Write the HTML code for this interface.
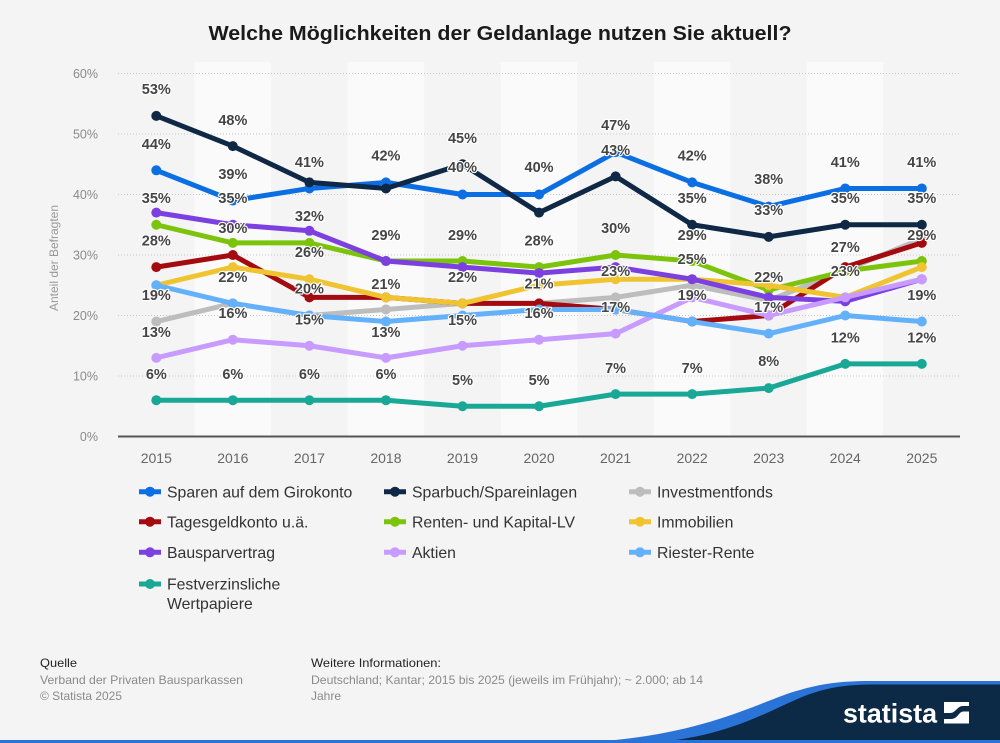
<!DOCTYPE html>
<html><head><meta charset="utf-8">
<style>
html,body{margin:0;padding:0;background:#f4f4f4;}
svg{display:block;font-family:"Liberation Sans",Arial,sans-serif;}
.lbl{font-size:14.5px;font-weight:bold;fill:#454545;stroke:#ffffff;stroke-width:2.2px;stroke-linejoin:round;paint-order:stroke;text-anchor:middle;}
.yt{font-size:12.5px;fill:#8a8a8a;text-anchor:end;}
.xt{font-size:14px;fill:#666;text-anchor:middle;}
.lg{font-size:15.8px;fill:#333;}
.s{fill:none;stroke-width:5;stroke-linejoin:round;stroke-linecap:round;}
</style></head>
<body>
<svg width="1000" height="743" viewBox="0 0 1000 743" xmlns="http://www.w3.org/2000/svg">
<defs>
<marker id="m0" markerUnits="userSpaceOnUse" markerWidth="12" markerHeight="12" refX="6" refY="6"><circle cx="6" cy="6" r="5" fill="#0b6fe3"/></marker>
<marker id="m1" markerUnits="userSpaceOnUse" markerWidth="12" markerHeight="12" refX="6" refY="6"><circle cx="6" cy="6" r="5" fill="#0e2845"/></marker>
<marker id="m2" markerUnits="userSpaceOnUse" markerWidth="12" markerHeight="12" refX="6" refY="6"><circle cx="6" cy="6" r="5" fill="#bdbdbd"/></marker>
<marker id="m3" markerUnits="userSpaceOnUse" markerWidth="12" markerHeight="12" refX="6" refY="6"><circle cx="6" cy="6" r="5" fill="#a30b10"/></marker>
<marker id="m4" markerUnits="userSpaceOnUse" markerWidth="12" markerHeight="12" refX="6" refY="6"><circle cx="6" cy="6" r="5" fill="#7cc30b"/></marker>
<marker id="m5" markerUnits="userSpaceOnUse" markerWidth="12" markerHeight="12" refX="6" refY="6"><circle cx="6" cy="6" r="5" fill="#f0c430"/></marker>
<marker id="m6" markerUnits="userSpaceOnUse" markerWidth="12" markerHeight="12" refX="6" refY="6"><circle cx="6" cy="6" r="5" fill="#7d40e0"/></marker>
<marker id="m7" markerUnits="userSpaceOnUse" markerWidth="12" markerHeight="12" refX="6" refY="6"><circle cx="6" cy="6" r="5" fill="#c79bff"/></marker>
<marker id="m8" markerUnits="userSpaceOnUse" markerWidth="12" markerHeight="12" refX="6" refY="6"><circle cx="6" cy="6" r="5" fill="#64b1fb"/></marker>
<marker id="m9" markerUnits="userSpaceOnUse" markerWidth="12" markerHeight="12" refX="6" refY="6"><circle cx="6" cy="6" r="5" fill="#1aa896"/></marker>
</defs>

<rect x="0" y="0" width="1000" height="743" fill="#f4f4f4"/>

<!-- title -->
<text x="500" y="40" text-anchor="middle" font-size="20" font-weight="bold" fill="#1a1a1a" textLength="583" lengthAdjust="spacingAndGlyphs">Welche Möglichkeiten der Geldanlage nutzen Sie aktuell?</text>

<!-- bands -->
<g fill="#fafafa">
<rect x="194.5" y="62" width="76.55" height="374.5"/>
<rect x="347.6" y="62" width="76.55" height="374.5"/>
<rect x="500.7" y="62" width="76.55" height="374.5"/>
<rect x="653.8" y="62" width="76.55" height="374.5"/>
<rect x="806.9" y="62" width="76.55" height="374.5"/>
</g>

<!-- grid -->
<g stroke="#c8c8c8" stroke-width="1" stroke-dasharray="1,2">
<line x1="118" y1="73.5" x2="960" y2="73.5"/>
<line x1="118" y1="134" x2="960" y2="134"/>
<line x1="118" y1="194.5" x2="960" y2="194.5"/>
<line x1="118" y1="255" x2="960" y2="255"/>
<line x1="118" y1="315.5" x2="960" y2="315.5"/>
<line x1="118" y1="376" x2="960" y2="376"/>
</g>
<line x1="118" y1="436.5" x2="960" y2="436.5" stroke="#555" stroke-width="2"/>

<!-- y ticks -->
<text class="yt" x="98" y="78">60%</text>
<text class="yt" x="98" y="138.5">50%</text>
<text class="yt" x="98" y="199">40%</text>
<text class="yt" x="98" y="259.5">30%</text>
<text class="yt" x="98" y="320">20%</text>
<text class="yt" x="98" y="380.5">10%</text>
<text class="yt" x="98" y="441">0%</text>

<text x="0" y="0" font-size="12" fill="#999" text-anchor="middle" transform="translate(58,258) rotate(-90)">Anteil der Befragten</text>

<!-- x ticks -->
<text class="xt" x="156.3" y="463">2015</text>
<text class="xt" x="232.85" y="463">2016</text>
<text class="xt" x="309.4" y="463">2017</text>
<text class="xt" x="385.95" y="463">2018</text>
<text class="xt" x="462.5" y="463">2019</text>
<text class="xt" x="539.05" y="463">2020</text>
<text class="xt" x="615.6" y="463">2021</text>
<text class="xt" x="692.15" y="463">2022</text>
<text class="xt" x="768.7" y="463">2023</text>
<text class="xt" x="845.25" y="463">2024</text>
<text class="xt" x="921.8" y="463">2025</text>

<!-- series -->
<polyline class="s" stroke="#0b6fe3" marker-start="url(#m0)" marker-mid="url(#m0)" marker-end="url(#m0)" points="156.3,170.3 232.85,200.55 309.4,188.45 385.95,182.4 462.5,194.5 539.05,194.5 615.6,152.15 692.15,182.4 768.7,206.6 845.25,188.45 921.8,188.45"/>
<polyline class="s" stroke="#0e2845" marker-start="url(#m1)" marker-mid="url(#m1)" marker-end="url(#m1)" points="156.3,115.85 232.85,146.1 309.4,182.4 385.95,188.45 462.5,164.25 539.05,212.65 615.6,176.35 692.15,224.75 768.7,236.85 845.25,224.75 921.8,224.75"/>
<polyline class="s" stroke="#bdbdbd" marker-start="url(#m2)" marker-mid="url(#m2)" marker-end="url(#m2)" points="156.3,321.55 232.85,303.4 309.4,315.5 385.95,309.45 462.5,303.4 539.05,303.4 615.6,297.35 692.15,285.25 768.7,300.4 845.25,270.15 921.8,238.85"/>
<polyline class="s" stroke="#a30b10" marker-start="url(#m3)" marker-mid="url(#m3)" marker-end="url(#m3)" points="156.3,267.1 232.85,255 309.4,297.35 385.95,297.35 462.5,303.4 539.05,303.4 615.6,309.45 692.15,321.55 768.7,315.5 845.25,267.1 921.8,242.9"/>
<polyline class="s" stroke="#7cc30b" marker-start="url(#m4)" marker-mid="url(#m4)" marker-end="url(#m4)" points="156.3,224.75 232.85,242.9 309.4,242.9 385.95,261.05 462.5,261.05 539.05,267.1 615.6,255 692.15,261.05 768.7,290 845.25,271 921.8,261.05"/>
<polyline class="s" stroke="#f0c430" marker-start="url(#m5)" marker-mid="url(#m5)" marker-end="url(#m5)" points="156.3,285.25 232.85,267.1 309.4,279.2 385.95,297.35 462.5,303.4 539.05,285.25 615.6,279.2 692.15,279.2 768.7,285.25 845.25,297.35 921.8,267.1"/>
<polyline class="s" stroke="#7d40e0" marker-start="url(#m6)" marker-mid="url(#m6)" marker-end="url(#m6)" points="156.3,212.65 232.85,224.75 309.4,230.8 385.95,261.05 462.5,267.1 539.05,273.15 615.6,267.1 692.15,279.2 768.7,297.35 845.25,301.4 921.8,279.2"/>
<polyline class="s" stroke="#c79bff" marker-start="url(#m7)" marker-mid="url(#m7)" marker-end="url(#m7)" points="156.3,357.85 232.85,339.7 309.4,345.75 385.95,357.85 462.5,345.75 539.05,339.7 615.6,333.65 692.15,297.35 768.7,315.5 845.25,297.35 921.8,279.2"/>
<polyline class="s" stroke="#64b1fb" marker-start="url(#m8)" marker-mid="url(#m8)" marker-end="url(#m8)" points="156.3,285.25 232.85,303.4 309.4,315.5 385.95,321.55 462.5,315.5 539.05,309.45 615.6,309.45 692.15,321.55 768.7,333.65 845.25,315.5 921.8,321.55"/>
<polyline class="s" stroke="#1aa896" marker-start="url(#m9)" marker-mid="url(#m9)" marker-end="url(#m9)" points="156.3,400.2 232.85,400.2 309.4,400.2 385.95,400.2 462.5,406.25 539.05,406.25 615.6,394.15 692.15,394.15 768.7,388.1 845.25,363.9 921.8,363.9"/>

<!-- data labels -->
<g class="lbl">
<text class="lbl" x="156.3" y="94">53%</text>
<text class="lbl" x="156.3" y="149">44%</text>
<text class="lbl" x="156.3" y="203">35%</text>
<text class="lbl" x="156.3" y="245.5">28%</text>
<text class="lbl" x="156.3" y="300">19%</text>
<text class="lbl" x="156.3" y="337">13%</text>
<text class="lbl" x="156.3" y="379">6%</text>

<text class="lbl" x="232.85" y="125">48%</text>
<text class="lbl" x="232.85" y="179">39%</text>
<text class="lbl" x="232.85" y="203">35%</text>
<text class="lbl" x="232.85" y="233">30%</text>
<text class="lbl" x="232.85" y="282">22%</text>
<text class="lbl" x="232.85" y="318">16%</text>
<text class="lbl" x="232.85" y="379">6%</text>

<text class="lbl" x="309.4" y="167">41%</text>
<text class="lbl" x="309.4" y="221">32%</text>
<text class="lbl" x="309.4" y="257">26%</text>
<text class="lbl" x="309.4" y="293.5">20%</text>
<text class="lbl" x="309.4" y="324.5">15%</text>
<text class="lbl" x="309.4" y="379">6%</text>

<text class="lbl" x="385.95" y="160.5">42%</text>
<text class="lbl" x="385.95" y="240">29%</text>
<text class="lbl" x="385.95" y="289">21%</text>
<text class="lbl" x="385.95" y="337">13%</text>
<text class="lbl" x="385.95" y="379">6%</text>

<text class="lbl" x="462.5" y="143">45%</text>
<text class="lbl" x="462.5" y="172">40%</text>
<text class="lbl" x="462.5" y="240">29%</text>
<text class="lbl" x="462.5" y="282">22%</text>
<text class="lbl" x="462.5" y="325">15%</text>
<text class="lbl" x="462.5" y="385">5%</text>

<text class="lbl" x="539.05" y="172">40%</text>
<text class="lbl" x="539.05" y="245.5">28%</text>
<text class="lbl" x="539.05" y="288.5">21%</text>
<text class="lbl" x="539.05" y="318">16%</text>
<text class="lbl" x="539.05" y="385">5%</text>

<text class="lbl" x="615.6" y="130">47%</text>
<text class="lbl" x="615.6" y="155">43%</text>
<text class="lbl" x="615.6" y="233">30%</text>
<text class="lbl" x="615.6" y="276">23%</text>
<text class="lbl" x="615.6" y="312">17%</text>
<text class="lbl" x="615.6" y="373">7%</text>

<text class="lbl" x="692.15" y="160.5">42%</text>
<text class="lbl" x="692.15" y="203">35%</text>
<text class="lbl" x="692.15" y="240">29%</text>
<text class="lbl" x="692.15" y="264">25%</text>
<text class="lbl" x="692.15" y="300">19%</text>
<text class="lbl" x="692.15" y="373">7%</text>

<text class="lbl" x="768.7" y="184">38%</text>
<text class="lbl" x="768.7" y="215">33%</text>
<text class="lbl" x="768.7" y="282">22%</text>
<text class="lbl" x="768.7" y="312">17%</text>
<text class="lbl" x="768.7" y="366">8%</text>

<text class="lbl" x="845.25" y="167">41%</text>
<text class="lbl" x="845.25" y="203">35%</text>
<text class="lbl" x="845.25" y="252">27%</text>
<text class="lbl" x="845.25" y="276">23%</text>
<text class="lbl" x="845.25" y="342.5">12%</text>

<text class="lbl" x="921.8" y="167">41%</text>
<text class="lbl" x="921.8" y="203">35%</text>
<text class="lbl" x="921.8" y="240">29%</text>
<text class="lbl" x="921.8" y="300">19%</text>
<text class="lbl" x="921.8" y="342.5">12%</text>
</g>

<!-- legend -->
<g stroke-width="5">
<line x1="139" y1="491.7" x2="161" y2="491.7" stroke="#0b6fe3"/><circle cx="150" cy="491.7" r="5" fill="#0b6fe3" stroke="none"/>
<line x1="384" y1="491.7" x2="406" y2="491.7" stroke="#0e2845"/><circle cx="395" cy="491.7" r="5" fill="#0e2845" stroke="none"/>
<line x1="629" y1="491.7" x2="651" y2="491.7" stroke="#bdbdbd"/><circle cx="640" cy="491.7" r="5" fill="#bdbdbd" stroke="none"/>
<line x1="139" y1="521.7" x2="161" y2="521.7" stroke="#a30b10"/><circle cx="150" cy="521.7" r="5" fill="#a30b10" stroke="none"/>
<line x1="384" y1="521.7" x2="406" y2="521.7" stroke="#7cc30b"/><circle cx="395" cy="521.7" r="5" fill="#7cc30b" stroke="none"/>
<line x1="629" y1="521.7" x2="651" y2="521.7" stroke="#f0c430"/><circle cx="640" cy="521.7" r="5" fill="#f0c430" stroke="none"/>
<line x1="139" y1="552.3" x2="161" y2="552.3" stroke="#7d40e0"/><circle cx="150" cy="552.3" r="5" fill="#7d40e0" stroke="none"/>
<line x1="384" y1="552.3" x2="406" y2="552.3" stroke="#c79bff"/><circle cx="395" cy="552.3" r="5" fill="#c79bff" stroke="none"/>
<line x1="629" y1="552.3" x2="651" y2="552.3" stroke="#64b1fb"/><circle cx="640" cy="552.3" r="5" fill="#64b1fb" stroke="none"/>
<line x1="139" y1="584" x2="161" y2="584" stroke="#1aa896"/><circle cx="150" cy="584" r="5" fill="#1aa896" stroke="none"/>
</g>
<text class="lg" x="167" y="497.3">Sparen auf dem Girokonto</text>
<text class="lg" x="412" y="497.3">Sparbuch/Spareinlagen</text>
<text class="lg" x="657" y="497.3">Investmentfonds</text>
<text class="lg" x="167" y="527.3">Tagesgeldkonto u.ä.</text>
<text class="lg" x="412" y="527.3">Renten- und Kapital-LV</text>
<text class="lg" x="657" y="527.3">Immobilien</text>
<text class="lg" x="167" y="557.9">Bausparvertrag</text>
<text class="lg" x="412" y="557.9">Aktien</text>
<text class="lg" x="657" y="557.9">Riester-Rente</text>
<text class="lg" x="167" y="589.6">Festverzinsliche</text>
<text class="lg" x="167" y="609">Wertpapiere</text>

<!-- footer -->
<text x="40" y="667" font-size="12" fill="#222" textLength="37" lengthAdjust="spacingAndGlyphs">Quelle</text>
<text x="40" y="684" font-size="12" fill="#8a8a8a" textLength="203" lengthAdjust="spacingAndGlyphs">Verband der Privaten Bausparkassen</text>
<text x="40" y="700" font-size="12" fill="#8a8a8a" textLength="82" lengthAdjust="spacingAndGlyphs">© Statista 2025</text>
<text x="311" y="667" font-size="12" fill="#222" textLength="130" lengthAdjust="spacingAndGlyphs">Weitere Informationen:</text>
<text x="311" y="684" font-size="12" fill="#8a8a8a" textLength="392" lengthAdjust="spacingAndGlyphs">Deutschland; Kantar; 2015 bis 2025 (jeweils im Frühjahr); ~ 2.000; ab 14</text>
<text x="311" y="700" font-size="12" fill="#8a8a8a" textLength="30" lengthAdjust="spacingAndGlyphs">Jahre</text>

<!-- bottom brand -->
<path d="M560,743 C700,741 760,700 800,690 C820,684 840,681 870,681 L1000,681 L1000,743 Z" fill="#2a74d8"/>
<path d="M640,743 C730,740 775,706 810,694 C830,687 848,684.5 875,684.5 L1000,684.5 L1000,743 Z" fill="#0c2a45"/>
<rect x="0" y="740" width="1000" height="3" fill="#2a74d8"/>
<text x="843" y="722.5" font-size="27" font-weight="bold" fill="#ffffff" textLength="94" lengthAdjust="spacingAndGlyphs">statista</text>
<rect x="944" y="702" width="25" height="21.5" fill="#ffffff"/>
<path d="M944,713 L950,713 C956,713 957,706 963,706 L969,706 L969,711.5 L963.5,711.5 C958.5,711.5 958,719 951,719 L944,719 Z" fill="#0c2a45"/>
</svg>
</body></html>
